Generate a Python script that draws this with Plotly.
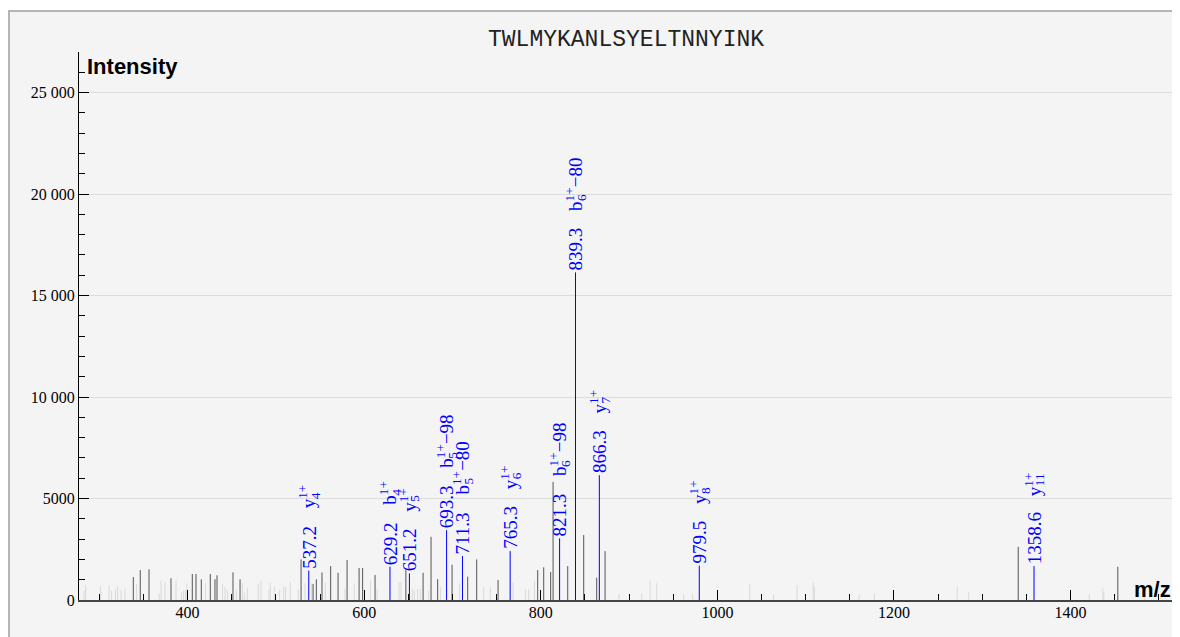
import plotly.graph_objects as go

sequence = "TWLMYKANLSYELTNNYINK"

# annotated fragment peaks (blue)
ann_mz = [537.2, 629.2, 651.2, 693.3, 711.3, 765.3, 821.3, 839.3, 866.3, 979.5, 1358.6]
ann_int = [1450, 1640, 1310, 3440, 2165, 2410, 3040, 16140, 6150, 1690, 1670]
ann_ion = ['y', 'b', 'y', 'b', 'b', 'y', 'b', 'b', 'y', 'y', 'y']
ann_num = ['4', '4', '5', '5', '5', '6', '6', '6', '7', '8', '11']
ann_loss = ['', '', '', '−98', '−80', '', '−98', '−80', '', '', '']
ann_charge = '1+'

# unmatched peaks (dark gray)
peak_mz = [338.5, 346.4, 356.3, 381.2, 405.3, 409.5, 415.5, 425.7, 431.0, 433.3,
           451.4, 459.4, 528.5, 542.1, 545.8, 552.2, 562.0, 570.4, 580.6, 594.2,
           598.2, 612.3, 647.2, 666.7, 675.7, 683.2, 699.5, 717.2, 727.4, 751.6,
           796.5, 803.3, 811.2, 813.9, 830.5, 848.6, 863.3, 872.8, 1340.7, 1453.5]
peak_int = [1130, 1475, 1510, 1070, 1280, 1280, 1020, 1280, 1020, 1215,
            1360, 1020, 2000, 790, 1020, 1360, 1670, 1340, 1970, 1575,
            1575, 1230, 1475, 1340, 3115, 1030, 1740, 1150, 2000, 990,
            1475, 1610, 1380, 5820, 1670, 3200, 1100, 2410, 2620, 1640]

# low-intensity peaks (light gray)
noise_mz = [282.6, 284.5, 301.4, 311.0, 313.9, 318.4, 320.7, 324.6, 329.1, 342.2,
            367.9, 369.9, 374.4, 386.9, 393.2, 395.5, 397.7, 399.3, 420.4, 439.6,
            442.4, 445.0, 455.2, 462.0, 464.2, 467.6, 480.1, 483.1, 492.2, 493.7,
            498.2, 504.2, 508.8, 511.0, 516.3, 525.4, 533.0, 540.5, 556.0, 578.3,
            588.8, 607.0, 614.6, 639.5, 641.7, 654.5, 656.8, 660.5, 663.6, 673.0,
            686.3, 708.1, 735.3, 742.9, 768.6, 782.5, 786.3, 792.8, 888.7, 914.3,
            923.8, 931.3, 961.9, 972.1, 1036.6, 1063.5, 1090.3, 1108.5, 1109.9, 1160.5,
            1177.9, 1271.6, 1284.7, 1421.1, 1436.5, 1437.6, 1484.0]
noise_int = [460, 740, 690, 740, 460, 525, 690, 490, 555, 790,
             330, 950, 885, 950, 360, 460, 490, 820, 850, 790,
             655, 490, 490, 820, 360, 575, 820, 950, 525, 850,
             655, 490, 655, 655, 885, 525, 820, 820, 850, 555,
             820, 950, 540, 870, 870, 540, 460, 540, 540, 460,
             625, 820, 625, 625, 870, 540, 540, 950, 295, 330,
             950, 820, 295, 295, 790, 260, 740, 850, 655, 260,
             330, 655, 380, 295, 575, 380, 280]


def sticks(xs, ys):
    sx, sy = [], []
    for x, y in zip(xs, ys):
        sx += [x, x, None]
        sy += [0, y, None]
    return sx, sy


def hidden(s):
    return f'<span style="color:rgba(0,0,0,0)">{s}</span>'


fig = go.Figure()
for xs, ys, col in [(noise_mz, noise_int, '#d9d9d9'),
                    (peak_mz, peak_int, '#555555'),
                    (ann_mz, ann_int, '#0000ff')]:
    sx, sy = sticks(xs, ys)
    fig.add_trace(go.Scatter(x=sx, y=sy, mode='lines', line=dict(color=col, width=1),
                             hoverinfo='skip', showlegend=False))

serif = 'Liberation Serif'
blue = '#0000ff'
annotations = []
for m, h, ion, num, loss in zip(ann_mz, ann_int, ann_ion, ann_num, ann_loss):
    lab = f"{m:.1f}"
    annotations.append(dict(x=m, y=h, text=lab, textangle=-90, showarrow=False,
                            xanchor='center', yanchor='bottom',
                            font=dict(family=serif, size=19, color=blue)))
    # ion name: superscript charge and subscript index stacked (two overlaid texts)
    up = f"{ion}<sup>{ann_charge}</sup>{loss}<sub>{hidden('1')}</sub>"
    down = f"{hidden(ion)}<sub>{num}</sub><sup>{hidden('1')}</sup>"
    for txt in (up, down):
        annotations.append(dict(x=m, y=h, text=txt, textangle=-90, showarrow=False,
                                xanchor='center', yanchor='bottom',
                                yshift=len(lab) * 8 + 20,
                                font=dict(family=serif, size=19, color=blue)))

annotations += [
    dict(xref='paper', yref='paper', x=0.5, y=1.022, text=sequence, showarrow=False,
         xanchor='center', yanchor='middle', font=dict(family='Liberation Mono', size=23, color='#222')),
    dict(xref='paper', yref='paper', x=0.0055, y=0.973, text='<b>Intensity</b>', showarrow=False,
         xanchor='left', yanchor='middle', font=dict(family='Liberation Sans', size=22, color='black')),
    dict(xref='paper', yref='paper', x=1.0, y=0.02, text='<b>m/z</b>', showarrow=False,
         xanchor='right', yanchor='middle', font=dict(family='Liberation Sans', size=22, color='black')),
]

fig.update_layout(
    width=1172, height=629,
    margin=dict(l=71, r=7, t=44, b=37),
    paper_bgcolor='white',
    plot_bgcolor='rgba(0,0,0,0)',
    separators='. ',
    annotations=annotations,
    shapes=[dict(type='rect', xref='paper', yref='paper', layer='below',
                 x0=-0.064, x1=1.0046, y0=-0.1, y1=1.0748,
                 fillcolor='#f4f4f4', line=dict(color='#b5b5b5', width=2))],
)
fig.update_xaxes(
    range=[277, 1516], showgrid=False, zeroline=False,
    showline=True, linecolor='#444', linewidth=2,
    ticks='inside', ticklen=10, tickcolor='black', dtick=200, tick0=0,
    ticklabelstandoff=-3,
    minor=dict(ticks='inside', ticklen=6, dtick=50, tickcolor='black', showgrid=False),
    tickfont=dict(family=serif, size=16, color='black'),
)
fig.update_yaxes(
    range=[0, 27000], showgrid=True, gridcolor='#dcdcdc', zeroline=False,
    showline=True, linecolor='black', linewidth=1, exponentformat='none',
    ticks='inside', ticklen=10, tickcolor='black', dtick=5000, tick0=0,
    minor=dict(ticks='inside', ticklen=6, dtick=1000, tickcolor='black', showgrid=False),
    tickfont=dict(family=serif, size=16, color='black'),
)

fig.write_html("out.html")
